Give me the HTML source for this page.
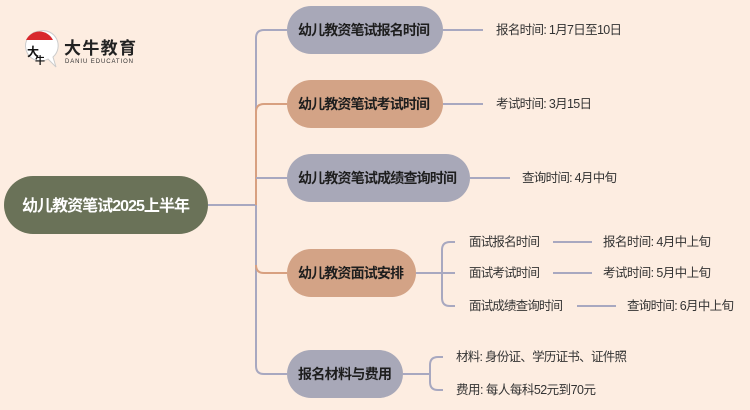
<!DOCTYPE html>
<html><head><meta charset="utf-8"><style>
html,body{margin:0;padding:0;background:#fdede1;}
svg{display:block}
text{font-family:"Liberation Sans","Noto Sans CJK SC",sans-serif;}
.b{font-weight:bold;font-size:14px;fill:#1e1e1e}
.t{font-size:12.5px;fill:#333}
</style></head><body>
<svg width="750" height="410" viewBox="0 0 750 410" xmlns="http://www.w3.org/2000/svg">
<rect width="750" height="410" fill="#fdede1"/>
<path d="M40 31 a15 15 0 1 0 8 28 l8 8 -3 -10 a15 15 0 0 0 -13 -26z" fill="#fff" stroke="#ccc" stroke-width="1"/>
<path d="M26 40 a15 15 0 0 1 27 0z" fill="#d8282d"/>
<text x="27" y="56" font-size="12" fill="#111" font-weight="bold">大</text>
<text x="35" y="64" font-size="10" fill="#111" font-weight="bold">牛</text>
<text x="64" y="54" font-size="17" font-weight="bold" fill="#222" textLength="72">大牛教育</text>
<text x="65" y="63" font-size="6" fill="#333" textLength="68">DANIU EDUCATION</text>
<g fill="none" stroke-width="2">
<path d="M208 205 H256" stroke="#a8a8c0"/>
<path d="M256 205 V38 Q256 30 264 30 H287" stroke="#a8a8c0"/>
<path d="M256 205 V112 Q256 104 264 104 H287" stroke="#d8a080"/>
<path d="M256 178 H287" stroke="#a8a8c0"/>
<path d="M256 205 V366 Q256 374 264 374 H287" stroke="#a8a8c0"/>
<path d="M256 265 Q256 273 264 273 H287" stroke="#d8a080"/>
<path d="M443 30 H483 M443 104 H483 M470 178 H510" stroke="#a8a8c0"/>
<path d="M416 273 H442 M442 273 V250 Q442 242 450 242 H455 M442 273 H455 M442 273 V298 Q442 306 450 306 H455" stroke="#a8a8c0"/>
<path d="M553 242 H592 M553 273 H592 M577 306 H616" stroke="#a8a8c0"/>
<path d="M403 374 H430 V365 Q430 357 438 357 H443 M430 374 V382 Q430 390 438 390 H443" stroke="#a8a8c0"/>
</g>
<rect x="4" y="176" width="204" height="58" rx="29" fill="#6a7258"/>
<text x="22" y="211" font-size="16" font-weight="bold" fill="#fff" textLength="168">幼儿教资笔试2025上半年</text>
<rect x="287" y="6" width="156" height="48" rx="24" fill="#a8a8b8"/>
<text x="298" y="35" class="b" textLength="132">幼儿教资笔试报名时间</text>
<rect x="287" y="80" width="156" height="48" rx="24" fill="#d3a386"/>
<text x="298" y="109" class="b" textLength="132">幼儿教资笔试考试时间</text>
<rect x="287" y="154" width="183" height="48" rx="24" fill="#a8a8b8"/>
<text x="298" y="183" class="b" textLength="159">幼儿教资笔试成绩查询时间</text>
<rect x="287" y="249" width="129" height="48" rx="24" fill="#d3a386"/>
<text x="298" y="278" class="b" textLength="106">幼儿教资面试安排</text>
<rect x="287" y="350" width="116" height="48" rx="24" fill="#a8a8b8"/>
<text x="298" y="379" class="b" textLength="94">报名材料与费用</text>
<text x="496" y="34" class="t" textLength="126">报名时间: 1月7日至10日</text>
<text x="496" y="108" class="t" textLength="96">考试时间: 3月15日</text>
<text x="522" y="182" class="t" textLength="95">查询时间: 4月中旬</text>
<text x="469" y="246" class="t" textLength="71">面试报名时间</text>
<text x="469" y="277" class="t" textLength="71">面试考试时间</text>
<text x="469" y="310" class="t" textLength="94">面试成绩查询时间</text>
<text x="603" y="246" class="t" textLength="108">报名时间: 4月中上旬</text>
<text x="603" y="277" class="t" textLength="108">考试时间: 5月中上旬</text>
<text x="627" y="310" class="t" textLength="107">查询时间: 6月中上旬</text>
<text x="456" y="361" class="t" textLength="171">材料: 身份证、学历证书、证件照</text>
<text x="456" y="394" class="t" textLength="140">费用: 每人每科52元到70元</text>
</svg>
</body></html>
